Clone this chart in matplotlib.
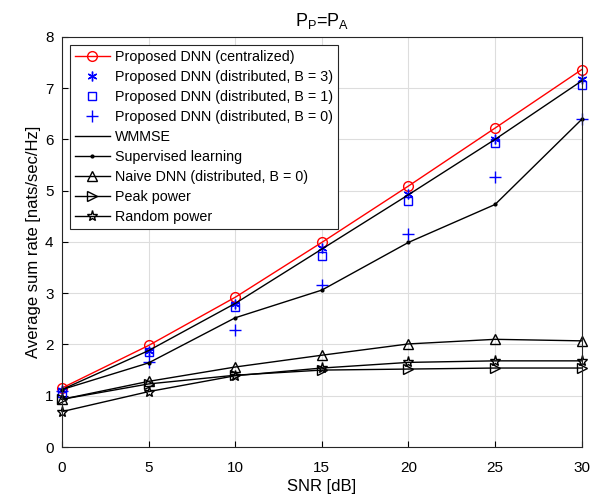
import numpy as np
import matplotlib
matplotlib.use('Agg')
import matplotlib.pyplot as plt

plt.rcParams['font.family'] = ['Liberation Sans', 'DejaVu Sans']
plt.rcParams['mathtext.fontset'] = 'custom'
plt.rcParams['mathtext.rm'] = 'Liberation Sans'
plt.rcParams['mathtext.it'] = 'Liberation Sans'

# SNR values [dB]
snr = [0, 5, 10, 15, 20, 25, 30]

# average sum rate [nats/sec/Hz]
dnn_central = [1.15, 1.98, 2.92, 3.99, 5.09, 6.22, 7.36]
dnn_b3 = [1.12, 1.88, 2.79, 3.88, 4.93, 6.00, 7.17]
dnn_b1 = [1.06, 1.85, 2.73, 3.72, 4.80, 5.92, 7.06]
dnn_b0 = [1.10, 1.66, 2.28, 3.15, 4.16, 5.27, 6.40]
wmmse = [1.12, 1.88, 2.80, 3.86, 4.92, 6.00, 7.14]
supervised = [1.12, 1.64, 2.52, 3.06, 3.99, 4.73, 6.39]
naive_dnn = [0.93, 1.28, 1.56, 1.79, 2.01, 2.10, 2.07]
peak_power = [0.93, 1.23, 1.40, 1.50, 1.52, 1.54, 1.54]
random_power = [0.69, 1.08, 1.39, 1.54, 1.65, 1.68, 1.68]

fig = plt.figure(figsize=(5.9, 4.97), dpi=100)
ax = fig.add_axes([0.105, 0.1006, 0.881, 0.8254])

blue = '#0000ff'
asterisk = (6, 2, 0)
common = dict(clip_on=False, lw=1)
ax.plot(snr, dnn_central, '-o', color='red', ms=7, mfc='none',
        label='Proposed DNN (centralized)', **common)
ax.plot(snr, dnn_b3, linestyle='none', marker=asterisk, color=blue, ms=7,
        mew=1, label='Proposed DNN (distributed, B = 3)', clip_on=False)
ax.plot(snr, dnn_b1, linestyle='none', marker='s', color=blue, ms=6, mfc='none',
        label='Proposed DNN (distributed, B = 1)', clip_on=False)
ax.plot(snr, dnn_b0, linestyle='none', marker='+', color=blue, ms=8,
        label='Proposed DNN (distributed, B = 0)', clip_on=False)
ax.plot(snr, wmmse, '-', color='black', label='WMMSE', **common)
ax.plot(snr, supervised, '-', marker='.', color='black', ms=4,
        label='Supervised learning', **common)
ax.plot(snr, naive_dnn, '-^', color='black', ms=7.5, mfc='none',
        label='Naive DNN (distributed, B = 0)', **common)
ax.plot(snr, peak_power, '->', color='black', ms=7.5, mfc='none',
        label='Peak power', **common)
ax.plot(snr, random_power, '-*', color='black', ms=8, mfc='none',
        label='Random power', **common)

ax.set_xlim(0, 30)
ax.set_ylim(0, 8)
ax.set_xticks(snr)
ax.set_yticks(range(9))
ax.tick_params(direction='in', labelsize=11, length=4, top=False, right=False)
ax.tick_params(axis='x', pad=10)
ax.tick_params(axis='y', pad=6)
ax.grid(True, color='#dddddd', lw=0.8)
ax.set_axisbelow(True)
for s in ax.spines.values():
    s.set_color('#262626')
    s.set_linewidth(0.8)

ax.set_xlabel('SNR [dB]', fontsize=12, labelpad=3)
ax.set_ylabel('Average sum rate [nats/sec/Hz]', fontsize=12, labelpad=3)
ax.set_title('P$_P$=P$_A$', fontsize=13, pad=8)

leg = ax.legend(loc='upper left', fontsize=10.3, frameon=True, fancybox=False,
                edgecolor='#262626', framealpha=1, borderaxespad=0.55,
                handlelength=2.45, labelspacing=0.42, borderpad=0.35,
                handletextpad=0.35)
leg.get_frame().set_linewidth(0.8)

fig.savefig('out.png', dpi=100)
